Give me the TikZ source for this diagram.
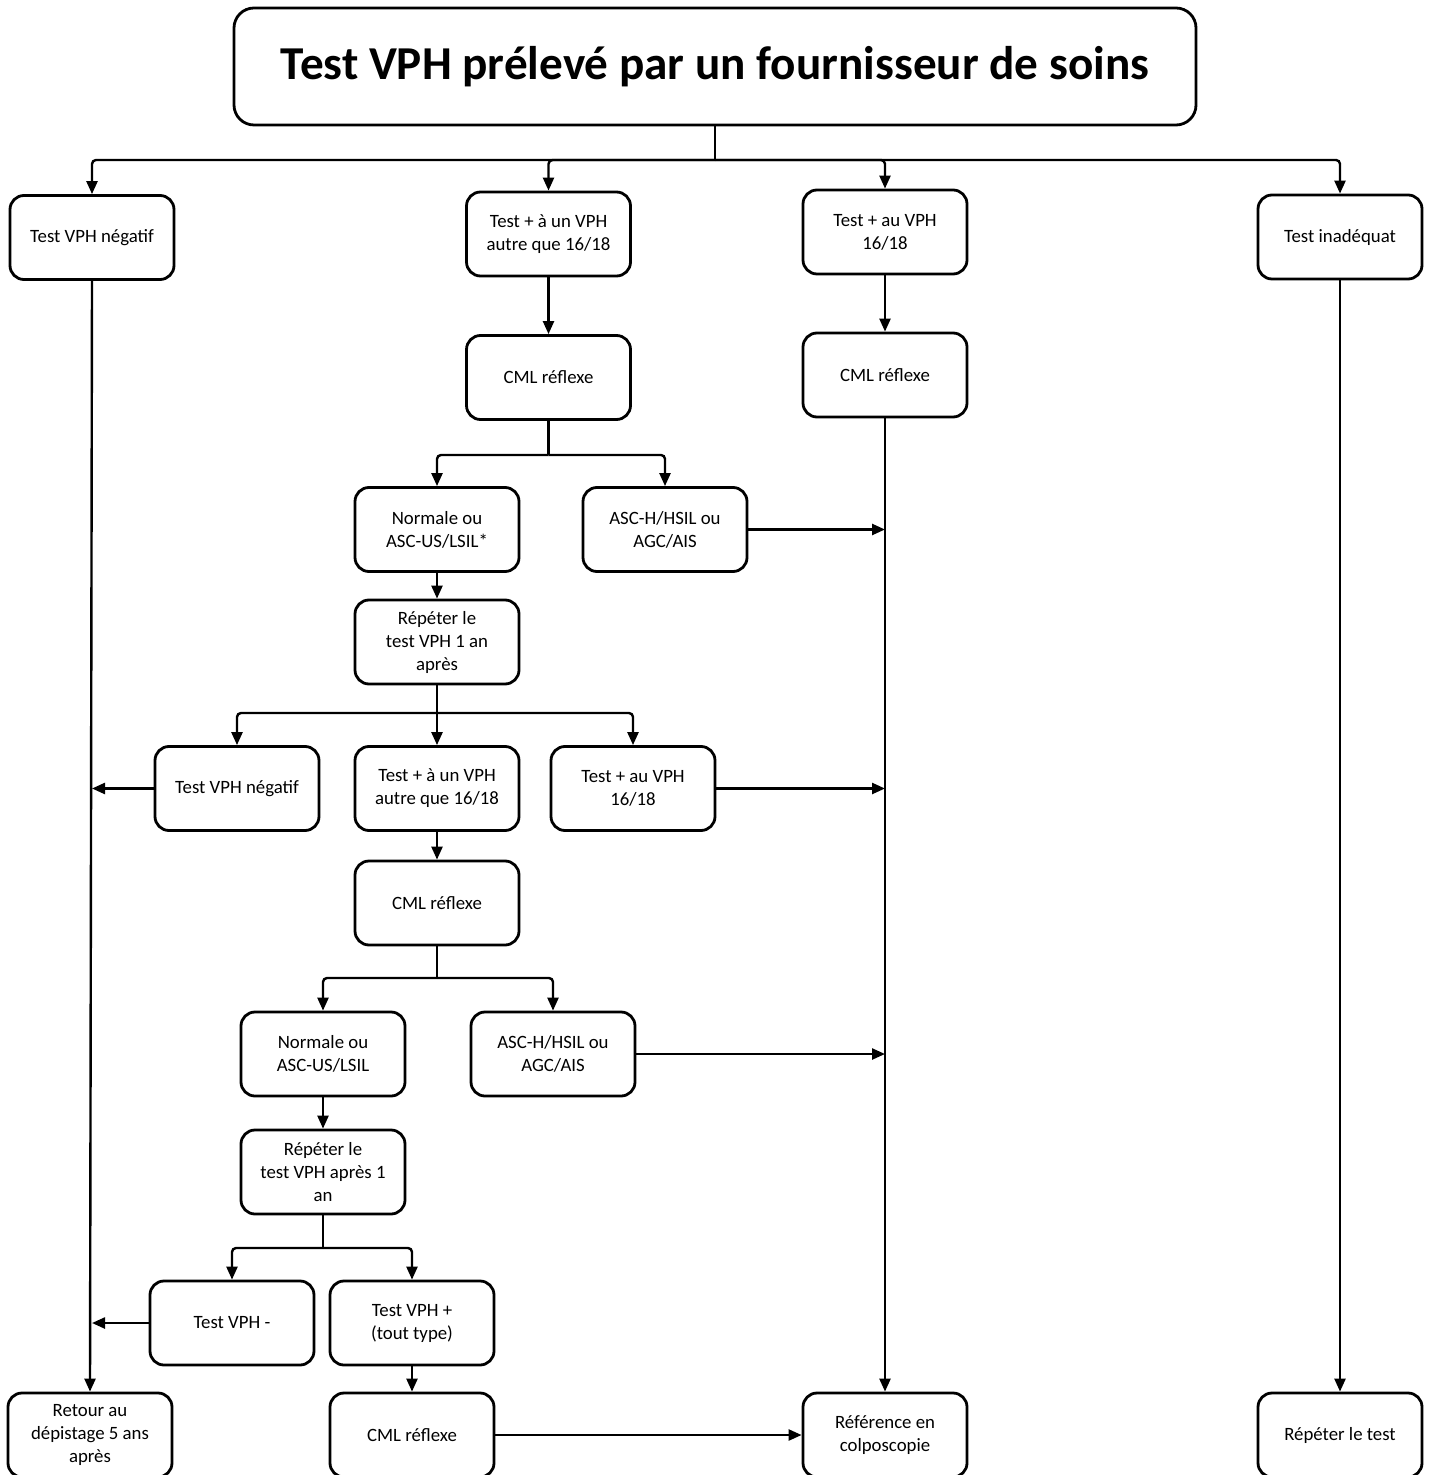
\documentclass[tikz,border=0pt]{standalone}
\usepackage{fontspec}
\setmainfont{Carlito}
\usetikzlibrary{arrows.meta}
\tikzset{
	box/.style={draw, line width=1.4pt, rounded corners=7pt, minimum width=82pt, minimum height=42pt, inner sep=2pt, align=center, font=\fontsize{9.4}{11.5}\selectfont},
	titlebox/.style={draw, line width=1.4pt, rounded corners=10pt, minimum width=481pt, minimum height=58.5pt, font=\fontsize{23.6}{27}\selectfont\bfseries},
	flow/.style={line width=1.2pt, rounded corners=2pt, -{Triangle[length=6.5pt,width=5.5pt]}},
	link/.style={line width=1.2pt, rounded corners=2pt},
}

\begin{document}
\begin{tikzpicture}[x=0.5pt, y=-0.5pt]
			%%%%% START %%%%%
			\useasboundingbox (0, 0) rectangle (1434, 1475);
			
			\node[titlebox] (top) at (715, 66.5) {Test VPH prélevé par un fournisseur de soins};
			\coordinate (bus1) at (715, 160);
			
			\node[box] (neg1) at (92, 237.5) {Test VPH négatif};
			\node[box] (oth1) at (548.5, 234) {Test + à un VPH\\autre que 16/18};
			\node[box] (hpv1) at (885, 232) {Test + au VPH\\16/18};
			\node[box] (inad) at (1340, 237) {Test inadéquat};
			
			\node[box] (cml1) at (548.5, 377.5) {CML réflexe};
			\node[box] (cml2) at (885, 375) {CML réflexe};
			\coordinate (bus2) at (548.5, 455);
			
			\node[box] (norm1) at (437, 529.5) {Normale ou\\ASC-US/LSIL*};
			\node[box] (asch1) at (665, 529.5) {ASC-H/HSIL ou\\AGC/AIS};
			\node[box] (rep1) at (437, 642) {Répéter le\\test VPH 1 an\\après};
			\coordinate (bus3) at (437, 713);
			
			\node[box] (neg2) at (237, 788.5) {Test VPH négatif};
			\node[box] (oth2) at (437, 788.5) {Test + à un VPH\\autre que 16/18};
			\node[box] (hpv2) at (633, 788.5) {Test + au VPH\\16/18};
			\node[box] (cml3) at (437, 903) {CML réflexe};
			\coordinate (bus4) at (437, 978);
			
			\node[box] (norm2) at (323, 1054) {Normale ou\\ASC-US/LSIL};
			\node[box] (asch2) at (553, 1054) {ASC-H/HSIL ou\\AGC/AIS};
			\node[box] (rep2) at (323, 1172) {Répéter le\\test VPH après 1\\an};
			\coordinate (bus5) at (323, 1248);
			
			\node[box] (neg3) at (232, 1323) {Test VPH -};
			\node[box] (pos3) at (412, 1323) {Test VPH +\\(tout type)};
			
			\node[box] (ret) at (90, 1435) {Retour au\\dépistage 5 ans\\après};
			\node[box] (cml4) at (412, 1435) {CML réflexe};
			\node[box] (ref) at (885, 1435) {Référence en\\colposcopie};
			\node[box] (rept) at (1340, 1435) {Répéter le test};
			
			% first split
			\draw[line width=0.8pt] (top.south) -- (bus1);
			\draw[flow] (bus1) -| (neg1.north);
			\draw[flow] (bus1) -| (oth1.north);
			\draw[flow] (bus1) -| (hpv1.north);
			\draw[flow] (bus1) -| (inad.north);
			
			\draw[flow] (oth1) -- (cml1);
			\draw[flow] (hpv1) -- (cml2);
			\draw[link] (cml1.south) -- (bus2);
			\draw[flow] (bus2) -| (norm1.north);
			\draw[flow] (bus2) -| (asch1.north);
			\draw[flow] (asch1.east) -- (asch1.east -| cml2.south);
			\draw[flow] (norm1) -- (rep1);
			
			% second split
			\draw[link] (rep1.south) -- (bus3);
			\draw[flow] (bus3) -| (neg2.north);
			\draw[flow] (bus3) -- (oth2.north);
			\draw[flow] (bus3) -| (hpv2.north);
			\draw[flow] (neg2.west) -- (neg2.west -| neg1.south);
			\draw[flow] (hpv2.east) -- (hpv2.east -| cml2.south);
			\draw[flow] (oth2) -- (cml3);
			
			\draw[link] (cml3.south) -- (bus4);
			\draw[flow] (bus4) -| (norm2.north);
			\draw[flow] (bus4) -| (asch2.north);
			\draw[flow] (asch2.east) -- (asch2.east -| cml2.south);
			\draw[flow] (norm2) -- (rep2);
			
			% third split
			\draw[link] (rep2.south) -- (bus5);
			\draw[flow] (bus5) -| (neg3.north);
			\draw[flow] (bus5) -| (pos3.north);
			\draw[flow] (neg3.west) -- (neg3.west -| neg1.south);
			\draw[flow] (pos3) -- (cml4);
			
			% long lines
			\draw[flow] (neg1.south) -- (ret.north);
			\draw[flow] (cml2.south) -- (ref.north);
			\draw[flow] (inad.south) -- (rept.north);
			\draw[flow] (cml4.east) -- (ref.west);
			
			%%%%% END %%%%%
\end{tikzpicture}
\end{document}
